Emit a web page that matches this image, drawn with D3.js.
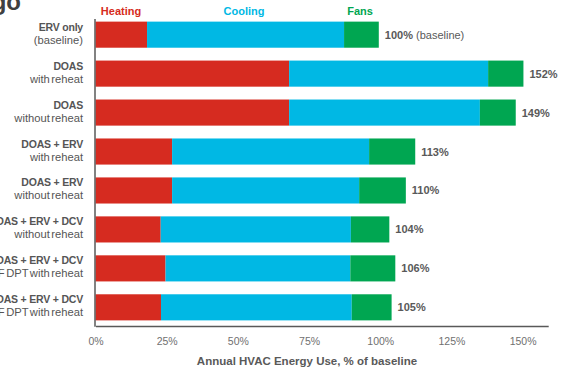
<!DOCTYPE html>
<html><head><meta charset="utf-8">
<script src="https://cdn.jsdelivr.net/npm/d3@7"></script>
<style>body{margin:0;background:#fff}svg{display:block}text{font-family:"Liberation Sans",Arial,sans-serif}</style>
</head><body>
<svg id="c" width="561" height="372"></svg>
<script>
const categories = [
  ["ERV only", "(baseline)"],
  ["DOAS", "with reheat"],
  ["DOAS", "without reheat"],
  ["DOAS + ERV", "with reheat"],
  ["DOAS + ERV", "without reheat"],
  ["DOAS + ERV + DCV", "without reheat"],
  ["DOAS + ERV + DCV", "F DPT with reheat"],
  ["DOAS + ERV + DCV", "F DPT with reheat"]
];
const heating = [18.1, 68.0, 68.0, 26.9, 26.9, 22.9, 24.6, 23.0];
const cooling = [69.2, 69.9, 67.0, 69.2, 65.7, 66.8, 64.9, 67.0];
const fans    = [12.2, 12.4, 12.6, 16.2, 16.4, 13.5, 15.8, 14.0];
const totalLabels = ["100%", "152%", "149%", "113%", "110%", "104%", "106%", "105%"];
const tickValues = [0, 25, 50, 75, 100, 125, 150];
const seriesNames = ["Heating", "Cooling", "Fans"];
const colors = ["#d62b20", "#00b8e4", "#00a651"];

const svg = d3.select("#c");
const x = d3.scaleLinear().domain([0, 159]).range([95.5, 548.2]);
const y = d3.scaleBand().domain(d3.range(categories.length)).range([15, 327]).paddingInner(0.33).paddingOuter(0.17);

const rows = categories.map((c, i) => ({i, Heating: heating[i], Cooling: cooling[i], Fans: fans[i]}));
const stacked = d3.stack().keys(seriesNames)(rows);

svg.append("g").selectAll("g").data(stacked).join("g")
  .attr("fill", (d, k) => colors[k])
  .selectAll("rect").data(d => d).join("rect")
  .attr("x", d => x(d[0]))
  .attr("width", d => x(d[1]) - x(d[0]))
  .attr("y", d => y(d.data.i))
  .attr("height", y.bandwidth());

// axes
const xAxis = d3.axisBottom(x).tickValues(tickValues).tickFormat(d => d + "%").tickSize(0).tickPadding(12);
const gx = svg.append("g").attr("transform", "translate(0,326)").call(xAxis);
gx.select(".domain").attr("stroke", "#595959").attr("stroke-width", 1.5);
gx.selectAll("text").attr("font-size", 10.5).attr("fill", "#707070").attr("font-family", "Liberation Sans, Arial, sans-serif");

svg.append("line").attr("x1", 95).attr("x2", 95).attr("y1", 19).attr("y2", 326.7)
  .attr("stroke", "#595959").attr("stroke-width", 1.5);

// category labels
const lab = svg.append("g").selectAll("text").data(categories).join("text")
  .attr("text-anchor", "end").attr("fill", "#555");
lab.append("tspan").attr("x", 83).attr("y", (d, i) => y(i) + y.bandwidth() / 2 - 4)
  .attr("font-weight", "bold").attr("font-size", 10.5).attr("letter-spacing", -0.2).text(d => d[0]);
lab.append("tspan").attr("x", 83).attr("y", (d, i) => y(i) + y.bandwidth() / 2 + 9)
  .attr("font-size", 11.2).attr("word-spacing", -1.6).text(d => d[1]);

// totals
const tot = svg.append("g").selectAll("text").data(rows).join("text")
  .attr("x", d => x(d.Heating + d.Cooling + d.Fans) + 6)
  .attr("y", d => y(d.i) + y.bandwidth() / 2 + 4)
  .attr("font-size", 11).attr("font-weight", "bold").attr("fill", "#595959");
tot.append("tspan").text(d => totalLabels[d.i]);
tot.filter(d => d.i === 0).append("tspan").attr("font-weight", "normal").text(" (baseline)");

// legend labels above bars
const legendX = [121, 244, 360];
svg.append("g").selectAll("text").data(seriesNames).join("text")
  .attr("x", (d, k) => legendX[k]).attr("y", 15).attr("text-anchor", "middle")
  .attr("font-size", 11).attr("font-weight", "bold").attr("fill", (d, k) => colors[k])
  .text(d => d);

// axis title
svg.append("text").attr("x", 307).attr("y", 365).attr("text-anchor", "middle")
  .attr("font-size", 11.5).attr("font-weight", "bold").attr("fill", "#595959")
  .text("Annual HVAC  Energy Use, % of baseline");

// cut-off title
svg.append("text").attr("x", 21).attr("y", 10).attr("text-anchor", "end")
  .attr("font-size", 24).attr("font-weight", "bold").attr("fill", "#404040")
  .text("Chicago");
</script>
</body></html>
